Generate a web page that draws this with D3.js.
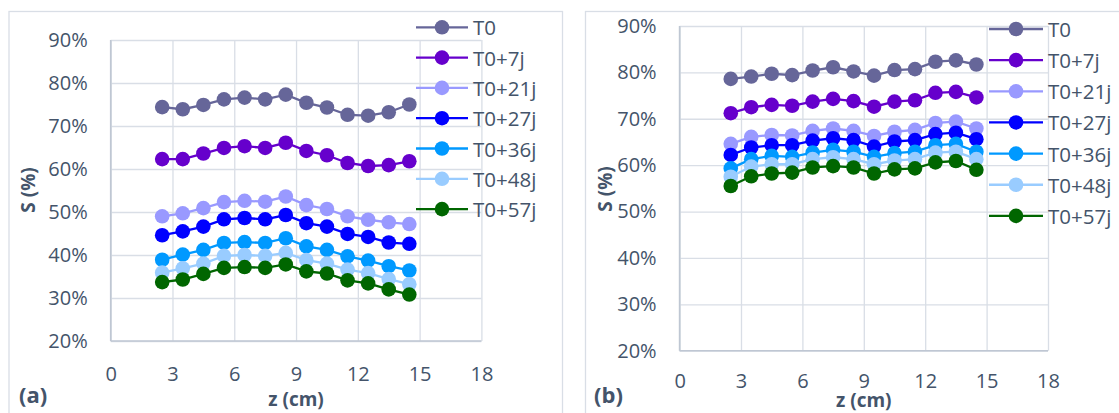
<!DOCTYPE html>
<html>
<head>
<meta charset="utf-8">
<script src="https://cdn.jsdelivr.net/npm/d3@7/dist/d3.min.js"></script>
<style>
  html, body { margin: 0; padding: 0; background: #ffffff; }
  svg { display: block; }
  text { font-family: "Open Sans", "Liberation Sans", sans-serif; fill: #44546A; }
</style>
</head>
<body>
<svg id="chart" width="1119" height="413"></svg>
<script>
// ---------- data ----------
const zValues = [2.5, 3.5, 4.5, 5.5, 6.5, 7.5, 8.5, 9.5, 10.5, 11.5, 12.5, 13.5, 14.5];
const seriesNames = ["T0", "T0+7j", "T0+21j", "T0+27j", "T0+36j", "T0+48j", "T0+57j"];
const seriesColors = ["#666699", "#6600CC", "#9999FF", "#0000FF", "#0099FF", "#99CCFF", "#006600"];
const xTicks = [0, 3, 6, 9, 12, 15, 18];
const yTicks = [20, 30, 40, 50, 60, 70, 80, 90];

// panel (a)
const a_T0   = [74.4, 73.9, 74.9, 76.2, 76.6, 76.2, 77.3, 75.4, 74.3, 72.6, 72.4, 73.2, 75.0];
const a_T7   = [62.3, 62.3, 63.6, 64.9, 65.3, 64.9, 66.1, 64.2, 63.2, 61.4, 60.7, 60.9, 61.8];
const a_T21  = [49.0, 49.7, 50.9, 52.3, 52.6, 52.4, 53.6, 51.6, 50.7, 49.0, 48.2, 47.6, 47.2];
const a_T27  = [44.6, 45.5, 46.6, 48.3, 48.6, 48.3, 49.3, 47.4, 46.6, 44.9, 44.2, 42.9, 42.6];
const a_T36  = [38.9, 40.1, 41.2, 42.8, 43.0, 42.8, 43.9, 42.0, 41.2, 39.7, 38.7, 37.4, 36.4];
const a_T48  = [35.9, 36.9, 38.0, 39.8, 40.0, 39.8, 40.5, 38.8, 38.0, 36.6, 35.8, 34.4, 33.2];
const a_T57  = [33.7, 34.3, 35.6, 37.0, 37.2, 37.0, 37.8, 36.2, 35.7, 34.1, 33.4, 32.0, 30.8];

// panel (b)
const b_T0   = [78.6, 79.1, 79.7, 79.4, 80.4, 81.1, 80.2, 79.3, 80.5, 80.7, 82.3, 82.6, 81.7];
const b_T7   = [71.2, 72.5, 73.0, 72.8, 73.7, 74.3, 73.8, 72.6, 73.7, 74.0, 75.6, 75.8, 74.6];
const b_T21  = [64.6, 66.1, 66.5, 66.4, 67.4, 67.9, 67.4, 66.3, 67.2, 67.6, 69.1, 69.4, 67.9];
const b_T27  = [62.2, 63.8, 64.3, 64.3, 65.3, 65.8, 65.4, 64.0, 65.1, 65.4, 66.7, 67.0, 65.6];
const b_T36  = [59.3, 61.3, 62.0, 61.8, 62.7, 63.3, 62.9, 61.8, 62.6, 62.9, 64.3, 64.6, 62.9];
const b_T48  = [57.5, 59.7, 60.2, 60.2, 61.3, 61.7, 61.3, 60.2, 61.0, 61.3, 62.7, 62.9, 61.3];
const b_T57  = [55.5, 57.6, 58.2, 58.4, 59.5, 59.8, 59.5, 58.2, 59.1, 59.3, 60.6, 60.9, 59.0];

const panelA = [a_T0, a_T7, a_T21, a_T27, a_T36, a_T48, a_T57];
const panelB = [b_T0, b_T7, b_T21, b_T27, b_T36, b_T48, b_T57];

// ---------- drawing ----------
const svg = d3.select("#chart");
const gridColor = "#D9DEE6";
const axisColor = "#BFC7D3";

function drawPanel(cfg) {
  const {series, frame, px, py, label, yTitle, legend, xLabelY, xTitleY} = cfg;
  // frame
  svg.append("rect")
    .attr("x", frame.x).attr("y", frame.y)
    .attr("width", frame.w).attr("height", frame.h)
    .attr("fill", "none").attr("stroke", gridColor).attr("stroke-width", 1.3);

  const x = d3.scaleLinear().domain([0, 18]).range(px);
  const y = d3.scaleLinear().domain([20, 90]).range(py);

  // horizontal gridlines + y labels
  const yAxis = svg.append("g")
    .attr("transform", `translate(${px[0]},0)`)
    .call(d3.axisLeft(y).tickValues(yTicks)
      .tickSize(-(px[1] - px[0])).tickPadding(23)
      .tickFormat(d => d + "%"));
  yAxis.select(".domain").remove();
  yAxis.selectAll(".tick line").attr("stroke", gridColor).attr("stroke-width", 1.3);
  yAxis.selectAll(".tick text").attr("font-size", 20).attr("fill", "#44546A")
    .attr("font-family", "Open Sans, Liberation Sans, sans-serif");

  // vertical gridlines + x labels
  const xAxis = svg.append("g")
    .attr("transform", `translate(0,${py[0]})`)
    .call(d3.axisBottom(x).tickValues(xTicks)
      .tickSize(-(py[0] - py[1])).tickPadding(0)
      .tickFormat(d3.format("d")));
  xAxis.select(".domain").remove();
  xAxis.selectAll(".tick line").attr("stroke", gridColor).attr("stroke-width", 1.3);
  xAxis.selectAll(".tick text").attr("font-size", 20).attr("fill", "#44546A")
    .attr("font-family", "Open Sans, Liberation Sans, sans-serif")
    .attr("dy", null).attr("y", xLabelY - py[0]).attr("dominant-baseline", "central");

  // axis lines (left & bottom)
  svg.append("line").attr("x1", px[0]).attr("x2", px[0]).attr("y1", py[1]).attr("y2", py[0])
    .attr("stroke", axisColor).attr("stroke-width", 1.6);
  svg.append("line").attr("x1", px[0]).attr("x2", px[1]).attr("y1", py[0]).attr("y2", py[0])
    .attr("stroke", axisColor).attr("stroke-width", 1.6);

  // series
  const line = d3.line().x((d, i) => x(zValues[i])).y(d => y(d));
  series.forEach((vals, si) => {
    const g = svg.append("g");
    g.append("path").datum(vals).attr("d", line)
      .attr("fill", "none").attr("stroke", seriesColors[si]).attr("stroke-width", 2.3);
    g.selectAll("circle").data(vals).join("circle")
      .attr("cx", (d, i) => x(zValues[i])).attr("cy", d => y(d))
      .attr("r", 7.3).attr("fill", seriesColors[si]);
  });

  // legend
  seriesNames.forEach((name, si) => {
    const ly = legend.y0 + si * legend.dy;
    svg.append("line").attr("x1", legend.x1).attr("x2", legend.x2)
      .attr("y1", ly).attr("y2", ly)
      .attr("stroke", seriesColors[si]).attr("stroke-width", 2.3);
    svg.append("circle").attr("cx", (legend.x1 + legend.x2) / 2).attr("cy", ly)
      .attr("r", 7.3).attr("fill", seriesColors[si]);
    svg.append("text").attr("x", legend.tx).attr("y", ly)
      .attr("dominant-baseline", "central").attr("font-size", 20.5)
      .text(name);
  });

  // axis titles
  svg.append("text")
    .attr("transform", `translate(${yTitle.x},${yTitle.y}) rotate(-90)`)
    .attr("text-anchor", "middle").attr("font-weight", "bold").attr("font-size", 19)
    .text("S (%)");
  svg.append("text")
    .attr("x", (px[0] + px[1]) / 2).attr("y", xTitleY)
    .attr("text-anchor", "middle").attr("font-weight", "bold").attr("font-size", 19)
    .text("z (cm)");
  svg.append("text")
    .attr("x", label.x).attr("y", 403)
    .attr("font-weight", "bold").attr("font-size", 22)
    .text(label.t);
}

drawPanel({
  series: panelA,
  frame: {x: 9, y: 11.5, w: 553.5, h: 420},
  px: [110.7, 481.4], py: [341, 40],
  xLabelY: 373, xTitleY: 406,
  label: {x: 19, t: "(a)"},
  yTitle: {x: 35, y: 190},
  legend: {x1: 416, x2: 468, tx: 473, y0: 27.3, dy: 30.3}
});

drawPanel({
  series: panelB,
  frame: {x: 585.5, y: 11.5, w: 560, h: 420},
  px: [679.6, 1048], py: [350.7, 26],
  xLabelY: 380.5, xTitleY: 407,
  label: {x: 594, t: "(b)"},
  yTitle: {x: 612, y: 189},
  legend: {x1: 989, x2: 1043, tx: 1048, y0: 29, dy: 31.15}
});
</script>
</body>
</html>
